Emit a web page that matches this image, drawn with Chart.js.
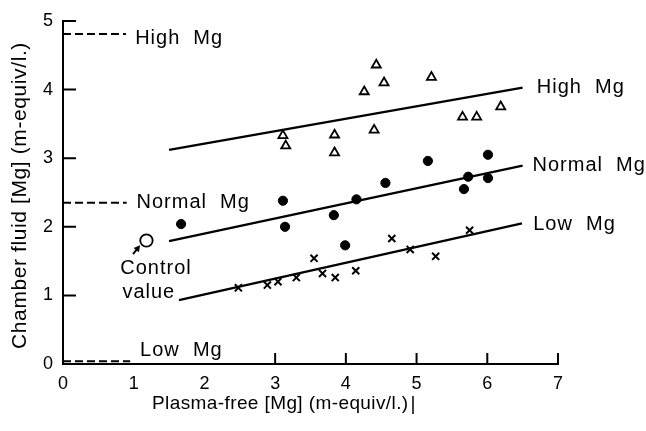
<!DOCTYPE html>
<html>
<head>
<meta charset="utf-8">
<script src="https://cdn.jsdelivr.net/npm/chart.js@4"></script>
<style>
  html, body { margin: 0; padding: 0; background: #fff; }
  #wrap { width: 646px; height: 431px; }
</style>
</head>
<body>
<div id="wrap"><canvas id="mgChart" width="646" height="431"></canvas></div>
<script>
// measured points, [plasma-free Mg, chamber fluid Mg]
const highX = [3.11, 3.15, 3.84, 3.84, 4.26, 4.40, 4.43, 4.54, 5.21, 5.65, 5.85, 6.19];
const highY = [3.33, 3.18, 3.34, 3.08, 3.97, 3.41, 4.36, 4.10, 4.18, 3.60, 3.60, 3.75];
const normalX = [1.67, 3.11, 3.14, 3.83, 3.99, 4.15, 4.56, 5.16, 5.67, 5.73, 6.01, 6.01];
const normalY = [2.04, 2.38, 2.00, 2.17, 1.73, 2.40, 2.64, 2.96, 2.55, 2.73, 3.05, 2.71];
const lowX = [2.48, 2.89, 3.04, 3.30, 3.55, 3.67, 3.85, 4.14, 4.65, 4.91, 5.27, 5.75];
const lowY = [1.11, 1.15, 1.20, 1.26, 1.54, 1.32, 1.26, 1.36, 1.83, 1.67, 1.57, 1.95];
const controlX = [1.18];
const controlY = [1.80];

// fitted lines (start, end)
const highFitX = [1.50, 6.50];
const highFitY = [3.12, 4.03];
const normalFitX = [1.50, 6.50];
const normalFitY = [1.79, 2.89];
const lowFitX = [1.64, 6.49];
const lowFitY = [0.93, 2.05];

// dashed levels on the left
const refHighX = [0, 0.89];
const refHighY = [4.81, 4.81];
const refNormalX = [0, 0.90];
const refNormalY = [2.35, 2.35];
const refLowX = [0, 0.95];
const refLowY = [0.04, 0.04];

const xTickLabels = [0, 1, 2, 3, 4, 5, 6, 7];
const yTickLabels = [0, 1, 2, 3, 4, 5];
const xTickMarks = [3, 4, 5, 6, 7];
const yTickMarks = [1, 2, 3, 4, 5];

const pts = (xs, ys) => xs.map((x, i) => ({ x: x, y: ys[i] }));

const lineSet = (xs, ys, dash) => ({
  type: 'line',
  data: pts(xs, ys),
  borderColor: '#000',
  borderWidth: dash ? 2 : 2.3,
  borderDash: dash ? [8, 4] : [],
  pointRadius: 0,
  fill: false,
  tension: 0
});

// text labels drawn over the plot, positions in data units
const notes = [
  { text: 'High  Mg', x: 1.02, y: 4.66 },
  { text: 'Normal  Mg', x: 1.04, y: 2.27 },
  { text: 'Low  Mg', x: 1.09, y: 0.11 },
  { text: 'High  Mg', x: 6.70, y: 3.95 },
  { text: 'Normal  Mg', x: 6.64, y: 2.82 },
  { text: 'Low  Mg', x: 6.65, y: 1.95 },
  { text: 'Control', x: 0.81, y: 1.31 },
  { text: 'value', x: 0.84, y: 0.96 }
];
const arrowFrom = { x: 0.99, y: 1.60 };
const arrowTo = { x: 1.09, y: 1.73 };

const extras = {
  id: 'extras',
  afterDraw(chart) {
    const ctx = chart.ctx;
    const xs = chart.scales.x, ys = chart.scales.y;
    const area = chart.chartArea;
    ctx.save();
    ctx.strokeStyle = '#000';
    ctx.fillStyle = '#000';
    ctx.lineWidth = 2;

    // inward ticks
    ctx.beginPath();
    yTickMarks.forEach(v => {
      const py = ys.getPixelForValue(v);
      ctx.moveTo(area.left, py);
      ctx.lineTo(area.left + 13, py);
    });
    xTickMarks.forEach(v => {
      const px = xs.getPixelForValue(v);
      ctx.moveTo(px, area.bottom);
      ctx.lineTo(px, area.bottom - 11);
    });
    ctx.stroke();

    // notes
    ctx.font = '20px "Liberation Sans", Arial, sans-serif';
    ctx.letterSpacing = '1px';
    ctx.textBaseline = 'alphabetic';
    ctx.textAlign = 'left';
    notes.forEach(n => {
      ctx.fillText(n.text, xs.getPixelForValue(n.x), ys.getPixelForValue(n.y));
    });

    // arrow to control value
    const ax = xs.getPixelForValue(arrowFrom.x), ay = ys.getPixelForValue(arrowFrom.y);
    const bx = xs.getPixelForValue(arrowTo.x), by = ys.getPixelForValue(arrowTo.y);
    const ang = Math.atan2(by - ay, bx - ax);
    ctx.lineWidth = 2;
    ctx.beginPath();
    ctx.moveTo(ax, ay);
    ctx.lineTo(bx - 3 * Math.cos(ang), by - 3 * Math.sin(ang));
    ctx.stroke();
    ctx.beginPath();
    ctx.moveTo(bx, by);
    ctx.lineTo(bx - 7 * Math.cos(ang - 0.5), by - 7 * Math.sin(ang - 0.5));
    ctx.lineTo(bx - 7 * Math.cos(ang + 0.5), by - 7 * Math.sin(ang + 0.5));
    ctx.closePath();
    ctx.fill();

    // x title
    ctx.font = '19px "Liberation Sans", Arial, sans-serif';
    ctx.letterSpacing = '0.4px';
    ctx.fillText('Plasma-free [Mg] (m-equiv/l.)', 152, 409);
    ctx.lineWidth = 1.5;
    ctx.beginPath();
    ctx.moveTo(413, 396);
    ctx.lineTo(413, 414);
    ctx.stroke();

    // y title
    ctx.font = '21px "Liberation Sans", Arial, sans-serif';
    ctx.letterSpacing = '0.6px';
    ctx.translate(20, (area.top + area.bottom) / 2 + 3);
    ctx.rotate(-Math.PI / 2);
    ctx.textAlign = 'center';
    ctx.textBaseline = 'middle';
    ctx.fillText('Chamber fluid [Mg] (m-equiv/l.)', 0, 0);
    ctx.restore();
  }
};

const ctx = document.getElementById('mgChart').getContext('2d');
new Chart(ctx, {
  type: 'scatter',
  data: {
    datasets: [
      {
        data: pts(highX, highY),
        pointStyle: 'triangle',
        pointRadius: 5.2,
        borderColor: '#000',
        backgroundColor: '#fff',
        borderWidth: 1.8
      },
      {
        data: pts(normalX, normalY),
        pointStyle: 'circle',
        pointRadius: 4.6,
        borderColor: '#000',
        backgroundColor: '#000',
        borderWidth: 1
      },
      {
        data: pts(lowX, lowY),
        pointStyle: 'crossRot',
        pointRadius: 5,
        borderColor: '#000',
        borderWidth: 2
      },
      {
        data: pts(controlX, controlY),
        pointStyle: 'circle',
        pointRadius: 6.2,
        borderColor: '#000',
        backgroundColor: '#fff',
        borderWidth: 1.8
      },
      lineSet(highFitX, highFitY),
      lineSet(normalFitX, normalFitY),
      lineSet(lowFitX, lowFitY),
      lineSet(refHighX, refHighY, true),
      lineSet(refNormalX, refNormalY, true),
      lineSet(refLowX, refLowY, true)
    ]
  },
  options: {
    responsive: false,
    animation: false,
    layout: { padding: { top: 21, right: 88, left: 0, bottom: 0 } },
    plugins: {
      legend: { display: false },
      tooltip: { enabled: false }
    },
    scales: {
      x: {
        type: 'linear',
        min: 0,
        max: 7,
        afterFit: (s) => { s.height = 67; },
        afterBuildTicks: (s) => { s.ticks = xTickLabels.map(v => ({ value: v })); },
        grid: { display: true, drawOnChartArea: false, drawTicks: false },
        border: { display: true, color: '#000', width: 2 },
        ticks: {
          padding: 9,
          color: '#000',
          font: { family: '"Liberation Sans", Arial, sans-serif', size: 18 }
        }
      },
      y: {
        type: 'linear',
        min: 0,
        max: 5,
        afterFit: (s) => { s.width = 63; },
        afterBuildTicks: (s) => { s.ticks = yTickLabels.map(v => ({ value: v })); },
        grid: { display: true, drawOnChartArea: false, drawTicks: false },
        border: { display: true, color: '#000', width: 2 },
        ticks: {
          padding: 10,
          color: '#000',
          font: { family: '"Liberation Sans", Arial, sans-serif', size: 18 }
        }
      }
    }
  },
  plugins: [extras]
});
</script>
</body>
</html>
